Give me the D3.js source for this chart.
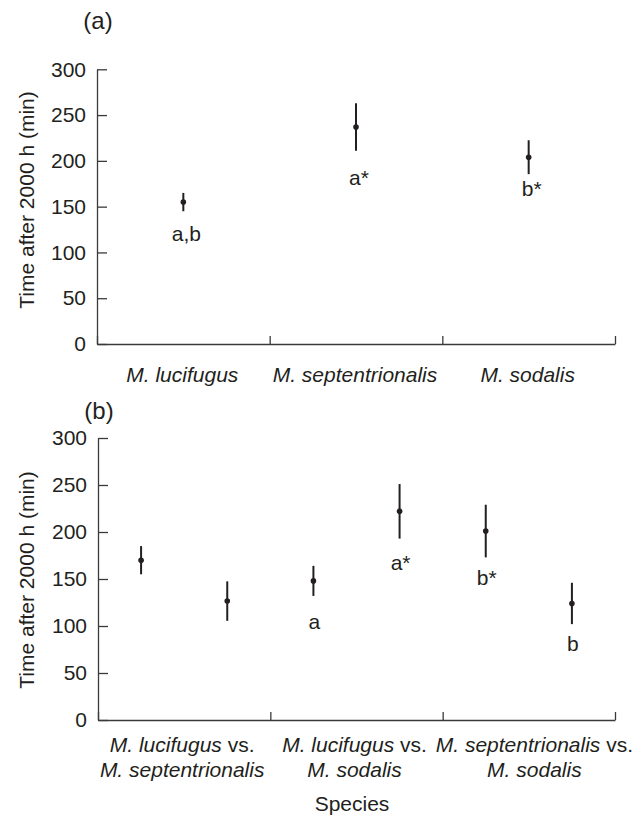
<!DOCTYPE html>
<html>
<head>
<meta charset="utf-8">
<script src="https://cdn.jsdelivr.net/npm/d3@7"></script>
<style>
  html, body { margin: 0; padding: 0; background: #fff; }
  svg text { font-family: "Liberation Sans", Arial, Helvetica, sans-serif; fill: #231f20; }
</style>
</head>
<body>
<svg id="chart" width="637" height="824"></svg>
<script>
// ---------- DATA ----------
const yTicks = [0, 50, 100, 150, 200, 250, 300];

// Panel (a)
const speciesA = ["M. lucifugus", "M. septentrionalis", "M. sodalis"];
const meanA = [155, 237, 204];
const errA = [10, 26, 18.5];
const lettersA = ["a,b", "a*", "b*"];
const letterValueA = [113, 174, 162];

// Panel (b)
const pairLine1 = ["M. lucifugus", "M. lucifugus", "M. septentrionalis"];
const pairLine2 = ["M. septentrionalis", "M. sodalis", "M. sodalis"];
const pointPair = [0, 0, 1, 1, 2, 2];
const pointSide = [0, 1, 0, 1, 0, 1];
const meanB = [170, 126.5, 148, 222, 201, 124];
const errB = [15, 21, 16, 29, 28, 22];
const lettersB = ["", "", "a", "a*", "b*", "b"];
const letterValueB = [null, null, 97, 160, 144, 73];

const yTitle = "Time after 2000 h (min)";
const xTitle = "Species";

// ---------- DRAW ----------
const svg = d3.select("#chart");
const W = 637;
const ink = "#231f20";
const axisColor = "#3a3a3a";
const fs = 21;

function panel(cfg) {
  const g = svg.append("g");
  const y = d3.scaleLinear().domain([0, 300]).range([cfg.y0, cfg.y300]);
  const xl = d3.scaleLinear().domain([0, 3]).range([cfg.x0, cfg.x1]);
  const band = d3.scaleBand().domain(d3.range(3)).range([cfg.x0, cfg.x1]).padding(0);

  // y axis
  const ya = g.append("g").attr("transform", `translate(${cfg.x0},0)`)
    .call(d3.axisLeft(y).tickValues(yTicks).tickSizeInner(-10).tickSizeOuter(0).tickPadding(11));
  ya.selectAll("path, line").attr("stroke", axisColor).attr("stroke-width", 1.3);
  ya.selectAll("text").style("font-size", fs + "px").attr("fill", ink);

  // x axis
  const xa = g.append("g").attr("transform", `translate(0,${cfg.y0})`)
    .call(d3.axisBottom(xl).tickValues([0, 1, 2, 3]).tickSizeInner(-8).tickSizeOuter(0).tickFormat(""));
  xa.selectAll("path, line").attr("stroke", axisColor).attr("stroke-width", 1.3);

  // panel label
  g.append("text").attr("x", cfg.x0 + 1).attr("y", cfg.titleY)
    .attr("text-anchor", "middle").style("font-size", "24px").text(cfg.tag);

  // y title
  g.append("text")
    .attr("transform", `translate(34,${cfg.yTitleC}) rotate(-90)`)
    .attr("text-anchor", "middle").style("font-size", fs + "px").text(yTitle);

  return { g, y, band, x1: cfg.x1 };
}

// Panel (a)
const A = panel({ x0: 97, x1: 615, y0: 344, y300: 69.3, titleY: 29, tag: "(a)", yTitleC: 200 });
const pa = A.g.append("g");
speciesA.forEach((s, i) => {
  const cx = A.band(i) + A.band.bandwidth() / 2;
  pa.append("line").attr("x1", cx).attr("x2", cx)
    .attr("y1", A.y(meanA[i] - errA[i])).attr("y2", A.y(meanA[i] + errA[i]))
    .attr("stroke", ink).attr("stroke-width", 2);
  pa.append("circle").attr("cx", cx).attr("cy", A.y(meanA[i])).attr("r", 2.8).attr("fill", ink);
  pa.append("text").attr("x", cx + 3).attr("y", A.y(letterValueA[i]))
    .attr("text-anchor", "middle").style("font-size", fs + "px").text(lettersA[i]);
  A.g.append("text").attr("x", cx - 1).attr("y", 381.6)
    .attr("text-anchor", "middle").style("font-size", fs + "px").style("font-style", "italic").text(s);
});

// Panel (b)
const B = panel({ x0: 98, x1: 615, y0: 720, y300: 438, titleY: 419, tag: "(b)", yTitleC: 580 });
const side = d3.scaleBand().domain([0, 1]).range([0, B.band.bandwidth()]);
const pb = B.g.append("g");
meanB.forEach((m, i) => {
  const cx = B.band(pointPair[i]) + side(pointSide[i]) + side.bandwidth() / 2;
  pb.append("line").attr("x1", cx).attr("x2", cx)
    .attr("y1", B.y(m - errB[i])).attr("y2", B.y(m + errB[i]))
    .attr("stroke", ink).attr("stroke-width", 2);
  pb.append("circle").attr("cx", cx).attr("cy", B.y(m)).attr("r", 2.8).attr("fill", ink);
  if (lettersB[i]) {
    pb.append("text").attr("x", cx + 1).attr("y", B.y(letterValueB[i]))
      .attr("text-anchor", "middle").style("font-size", fs + "px").text(lettersB[i]);
  }
});
pairLine1.forEach((s, k) => {
  const cx = B.band(k) + B.band.bandwidth() / 2;
  const grp = B.g.append("g");
  const t1 = grp.append("text").attr("y", 752.3)
    .attr("text-anchor", "middle").style("font-size", fs + "px");
  t1.append("tspan").style("font-style", "italic").text(s);
  t1.append("tspan").text(" vs.");
  grp.append("text").attr("y", 777.3)
    .attr("text-anchor", "middle").style("font-size", fs + "px").style("font-style", "italic")
    .text(pairLine2[k]);
  // a label block running past the axis end is pushed to the canvas edge
  const w = t1.node().getComputedTextLength();
  const x = (cx + w / 2 > B.x1) ? W - 4 - w / 2 : cx - 2;
  grp.selectAll("text").attr("x", x);
});
B.g.append("text").attr("x", 352).attr("y", 811.3)
  .attr("text-anchor", "middle").style("font-size", fs + "px").text(xTitle);
</script>
</body>
</html>
